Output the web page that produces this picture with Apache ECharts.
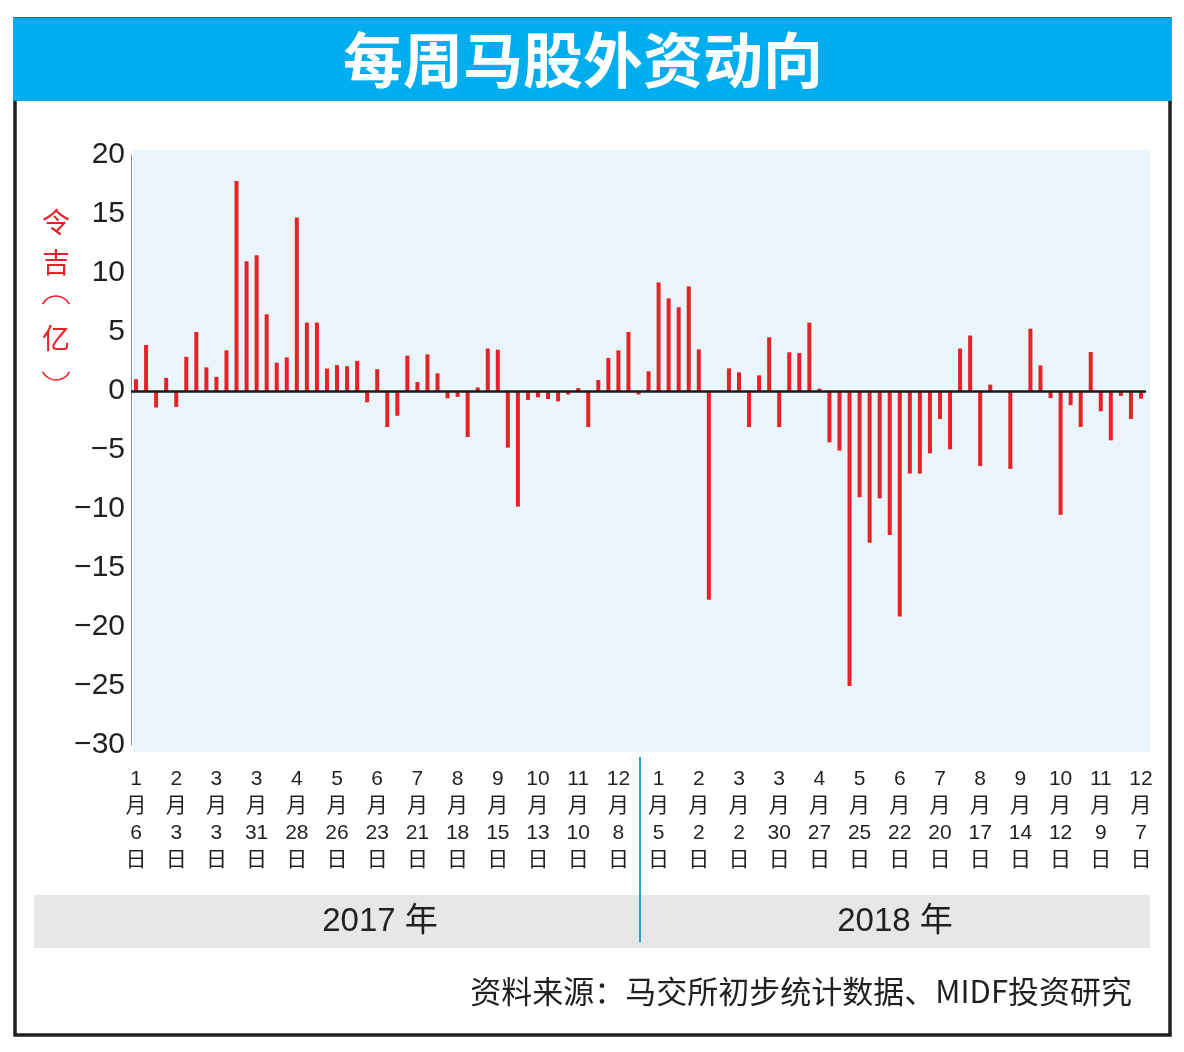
<!DOCTYPE html>
<html>
<head>
<meta charset="utf-8">
<script src="https://cdn.jsdelivr.net/npm/echarts@6/dist/echarts.min.js"></script>
<style>
  html, body { margin: 0; padding: 0; background: #ffffff; }
  #chart { width: 1184px; height: 1052px; }
</style>
</head>
<body>
<div id="chart"></div>
<script>
// Week-ending dates (month/day)
const dates2017 = ['1/6','1/13','1/20','1/27','2/3','2/10','2/17','2/24','3/3','3/10','3/17','3/24','3/31','4/7','4/14','4/21','4/28','5/5','5/12','5/19','5/26','6/2','6/9','6/16','6/23','6/30','7/7','7/14','7/21','7/28','8/4','8/11','8/18','8/25','9/1','9/8','9/15','9/22','9/29','10/6','10/13','10/20','10/27','11/3','11/10','11/17','11/24','12/1','12/8','12/15','12/22','12/29'];
const dates2018 = ['1/5','1/12','1/19','1/26','2/2','2/9','2/16','2/23','3/2','3/9','3/16','3/23','3/30','4/6','4/13','4/20','4/27','5/4','5/11','5/18','5/25','6/1','6/8','6/15','6/22','6/29','7/6','7/13','7/20','7/27','8/3','8/10','8/17','8/24','8/31','9/7','9/14','9/21','9/28','10/5','10/12','10/19','10/26','11/2','11/9','11/16','11/23','11/30','12/7'];

// Weekly net foreign flow (RM 100 million)
const values2017 = [1.0,3.9,-1.4,1.1,-1.35,2.9,5.0,2.0,1.2,3.45,17.8,11.0,11.5,6.5,2.4,2.85,14.7,5.8,5.8,1.9,2.2,2.1,2.55,-0.96,1.85,-3.05,-2.1,3.0,0.76,3.1,1.5,-0.62,-0.5,-3.9,0.3,3.6,3.5,-4.8,-9.8,-0.76,-0.54,-0.68,-0.88,-0.3,0.25,-3.05,0.93,2.8,3.45,5.0,-0.3,1.67];
const values2018 = [9.2,7.85,7.1,8.87,3.53,-17.7,0,1.92,1.58,-3.05,1.33,4.55,-3.05,3.28,3.22,5.8,0.2,-4.35,-5.05,-25.0,-9.0,-12.85,-9.1,-12.2,-19.1,-7.0,-7.0,-5.28,-2.37,-4.94,3.6,4.7,-6.36,0.54,0,-6.6,0,5.28,2.17,-0.6,-10.5,-1.2,-3.05,3.3,-1.72,-4.18,-0.42,-2.37,-0.65];

const yearLabels = ['2017 年', '2018 年'];
const titleText = '每周马股外资动向';
const unitChars = ['令', '吉', '亿'];
const sourceText = '资料来源：马交所初步统计数据、MIDF投资研究';
const yMin = -30, yMax = 20, yStep = 5;

const categories = dates2017.concat(dates2018);
const values = values2017.concat(values2018);

const chart = echarts.init(document.getElementById('chart'));
const sans = '"Liberation Sans", Arial, "Noto Sans CJK SC", sans-serif';
const cjk = '"Noto Sans CJK SC", sans-serif';

// vertical unit label 令吉（亿）, with vertical-form parentheses drawn as arcs
const unitY = [222, 262, 338];
const unitGraphics = unitChars.map(function (ch, i) {
  return {
    type: 'text', z: 3, x: 56, y: unitY[i],
    style: { text: ch, fill: '#e42228', font: '28px ' + cjk,
             textAlign: 'center', textVerticalAlign: 'middle' }
  };
}).concat([
  { type: 'arc', z: 3,
    shape: { cx: 56, cy: 311, r: 15, startAngle: Math.PI * 1.15, endAngle: Math.PI * 1.85, clockwise: true },
    style: { stroke: '#e42228', lineWidth: 1.6, fill: 'none' } },
  { type: 'arc', z: 3,
    shape: { cx: 56, cy: 365, r: 15, startAngle: Math.PI * 0.15, endAngle: Math.PI * 0.85, clockwise: true },
    style: { stroke: '#e42228', lineWidth: 1.6, fill: 'none' } }
]);

chart.setOption({
  animation: false,
  backgroundColor: '#ffffff',
  grid: { left: 131, right: 38, top: 155, bottom: 307, containLabel: false },
  xAxis: {
    type: 'category',
    data: categories,
    boundaryGap: true,
    axisLine: { show: false, onZero: false },
    axisTick: { show: false },
    axisLabel: {
      interval: 3,
      margin: 21,
      fontFamily: sans,
      fontSize: 21,
      lineHeight: 27,
      color: '#231f20',
      formatter: function (v) {
        const p = v.split('/');
        return p[0] + '\n月\n' + p[1] + '\n日';
      }
    }
  },
  yAxis: {
    type: 'value',
    min: yMin, max: yMax, interval: yStep,
    axisLine: { show: true, lineStyle: { color: '#8a8a8a', width: 1 } },
    axisTick: { show: false },
    splitLine: { show: false },
    axisLabel: {
      margin: 6,
      fontFamily: sans,
      fontSize: 30,
      color: '#231f20',
      formatter: function (v) { return v < 0 ? '\u2212' + Math.abs(v) : String(v); }
    }
  },
  series: [{
    type: 'bar',
    data: values,
    barWidth: 4,
    itemStyle: { color: '#e42228' },
    markLine: {
      silent: true,
      symbol: 'none',
      label: { show: false },
      lineStyle: { color: '#1a1a1a', width: 2.5, type: 'solid' },
      data: [{ yAxis: 0 }]
    }
  }],
  graphic: [
    { type: 'rect', z: 0, shape: { x: 15, y: 19, width: 1155, height: 1016 },
      style: { fill: 'none', stroke: '#231f20', lineWidth: 3.5 } },
    { type: 'rect', z: 1, shape: { x: 13, y: 18, width: 1159, height: 83 },
      style: { fill: '#00adee' } },
    { type: 'text', z: 2, x: 583, y: 60,
      style: { text: titleText, fill: '#ffffff', font: 'bold 60px ' + cjk,
               textAlign: 'center', textVerticalAlign: 'middle' } },
    { type: 'rect', z: 0, shape: { x: 133, y: 150, width: 1017, height: 602 },
      style: { fill: '#e9f4fb' } },
    { type: 'rect', z: 0, shape: { x: 34, y: 895, width: 1116, height: 53 },
      style: { fill: '#e6e7e8' } },
    { type: 'line', z: 3, shape: { x1: 640, y1: 757, x2: 640, y2: 942 },
      style: { stroke: '#1ea7cf', lineWidth: 2 } },
    { type: 'text', z: 3, x: 380, y: 922,
      style: { text: yearLabels[0], fill: '#231f20', font: '33px ' + sans,
               textAlign: 'center', textVerticalAlign: 'middle' } },
    { type: 'text', z: 3, x: 895, y: 922,
      style: { text: yearLabels[1], fill: '#231f20', font: '33px ' + sans,
               textAlign: 'center', textVerticalAlign: 'middle' } },
    { type: 'text', z: 3, x: 1132, y: 991,
      style: { text: sourceText, fill: '#231f20', font: '31px ' + cjk,
               textAlign: 'right', textVerticalAlign: 'middle' } }
  ].concat(unitGraphics)
});
</script>
</body>
</html>
